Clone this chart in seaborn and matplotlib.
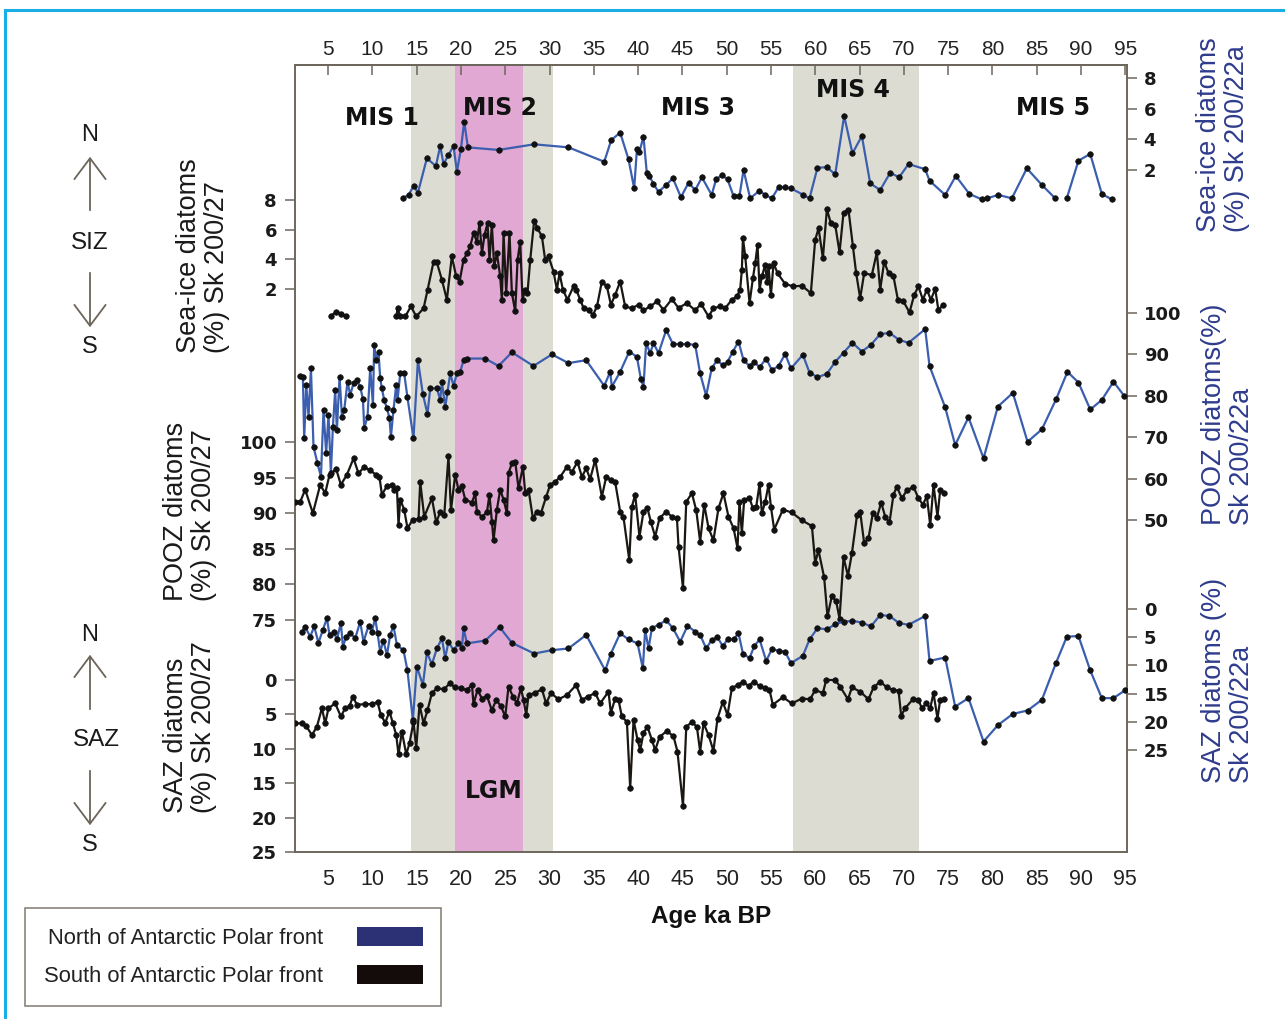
import numpy as np
import pandas as pd
import matplotlib
matplotlib.use("Agg")
import matplotlib.pyplot as plt
from matplotlib.patches import Rectangle, FancyArrowPatch, Patch
import seaborn as sns

# ---------------- data ----------------
age_ticks = list(range(5, 100, 5))

# climate stage bands (ka BP)
grey_bands = [(14.4, 30.4), (57.5, 71.7)]
lgm_band = (19.3, 27.05)
stage_labels = ["MIS 1", "MIS 2", "MIS 3", "MIS 4", "MIS 5"]

# Sea-ice diatoms (%), core Sk 200/22a (north of the Polar Front); NaN = break in record
seaice_22a_age = [13.47, 14.07, 14.64, 15.13, 16.14, 17.16, 17.65, 18.02, 18.58, 19.15,
                  19.53, 19.98, 20.36, 20.77, 24.23, 28.26, 32.13, 36.17, 36.96, 37.97,
                  38.91, 39.55, 39.86, 40.15, 40.6, 40.98, 41.28, 41.73, 42.3, 43.17,
                  43.92, 44.83, 45.69, 46.44, 47.2, 48.3, 48.8, 49.46, 50.09, 50.77,
                  51.44, 51.9, 52.65, 53.7, 54.35, 55.1, 55.85, 56.6, 57.25, 58.67,
                  59.35, 60.25, 61.31, 62.25, 63.26, 64.2, 65.26, 66.2, 67.33, 68.46,
                  69.47, 70.53, 72.41, 72.9, 74.67, 75.87, 77.41, 78.81, np.nan, 79.37,
                  80.68, 82.2, 83.89, 85.59, 87.09, np.nan, 88.4, 89.72, 91.05, 92.36, 93.49]
seaice_22a_val = [0.17, 0.37, 0.95, 0.52, 2.76, 2.26, 3.57, 2.39, 2.98, 3.57,
                  1.89, 3.35, 5.16, 3.48, 3.31, 3.68, 3.48, 2.54, 3.96, 4.44,
                  2.70, 0.80, 3.35, 3.20, 4.18, 1.78, 1.61, 1.08, 0.58, 1.02,
                  1.46, 0.22, 1.17, 0.69, 1.52, 0.37, 1.39, 1.67, 1.39, 0.30,
                  0.30, 2.0, 0.15, 0.65, 0.37, 0.15, 0.87, 0.87, 0.80, 0.37,
                  0.15, 2.15, 2.18, 1.72, 5.53, 3.09, 4.22, 1.13, 0.69, 1.82,
                  1.52, 2.39, 2.05, 1.30, 0.37, 1.61, 0.43, 0.08, np.nan, 0.15,
                  0.37, 0.15, 2.11, 1.02, 0.15, np.nan, 0.15, 2.61, 3.05, 0.43, 0.08]

# Sea-ice diatoms (%), core Sk 200/27 (south of the Polar Front)
seaice_27_age = [5.3, 5.9, 6.5, 7.0, np.nan,
                 12.7, 12.85, 13.1, 13.7, 14.34, 14.94, 15.77, 16.22, 16.9, 17.27,
                 17.84, 18.4, 18.96, 19.45, 19.83, 20.28, 20.66, 21.03, 21.41, 21.79,
                 22.09, 22.36, 22.65, 22.99, 23.21, 23.48, 23.74, 24.05, 24.42, 24.61,
                 24.8, 25.1, 25.47, 25.74, 26.12, 26.38, 26.68, 26.94, 27.25, 27.5,
                 27.81, 28.26, 28.63, 29.13, 29.5, 29.88, 30.44, 30.82, 31.12, 31.5,
                 32.02, 32.7, 33.0, 33.45, 33.83, 34.4, 34.89, 35.35, 35.9, 36.47,
                 36.92, 37.4, 37.97, 38.53, 39.29, 40.04, 40.6, 41.36, 42.12, 42.86,
                 43.81, 44.56, 45.5, 46.44, 47.1, 47.95, 48.5, 49.26, 49.82, 50.58,
                 51.15, 51.52, 51.71, 51.83, 52.09, 52.58, 52.96, 53.22, 53.48, 53.71,
                 53.97, 54.35, 54.54, 54.72, 54.99, 55.29, 55.74, 56.6, 57.47, 58.49,
                 59.5, 59.99, 60.37, 60.86, 61.31, 61.76, 62.25, 62.74, 63.19, 63.75,
                 64.25, 64.62, 65.07, 65.52, 66.39, 66.95, 67.33, 67.78, 68.27, 68.83,
                 69.33, 69.96, 70.64, 71.17, 71.65, 72.15, 72.6, 73.05, 73.54, 73.91, 74.41]
seaice_27_val = [0.2, 0.45, 0.35, 0.15, np.nan,
                 0.15, 0.75, 0.15, 0.15, 0.83, 0.15, 0.70, 1.94, 3.85, 3.79,
                 2.62, 1.28, 4.2, 2.85, 2.5, 3.96, 4.4, 4.87, 5.77, 5.2,
                 6.44, 4.4, 5.64, 6.44, 3.96, 6.33, 3.52, 4.4, 2.85, 1.28,
                 5.77, 1.73, 5.8, 1.73, 0.49, 3.96, 5.2, 1.28, 1.96, 1.73,
                 3.96, 6.62, 6.1, 5.55, 3.96, 4.2, 3.18, 1.96, 3.06, 1.96,
                 1.28, 2.18, 1.96, 1.28, 0.72, 0.6, 0.25, 0.83, 2.5, 2.18,
                 0.94, 1.6, 2.5, 0.83, 0.7, 0.94, 0.56, 0.83, 1.16, 0.6,
                 1.32, 0.72, 1.05, 0.56, 1.0, 0.15, 0.7, 0.83, 0.7, 1.28,
                 1.5, 1.96, 3.3, 5.44, 4.2, 1.05, 2.74, 3.75, 4.98, 1.96,
                 2.85, 3.64, 2.5, 3.52, 1.6, 3.75, 3.06, 2.35, 2.18, 2.22,
                 1.73, 5.32, 6.1, 4.08, 7.38, 6.44, 6.33, 4.47, 7.16, 7.34,
                 4.87, 3.06, 1.38, 3.06, 2.95, 4.47, 1.96, 3.85, 3.06, 2.85,
                 1.28, 1.16, 0.42, 1.6, 2.18, 1.28, 1.96, 1.28, 2.0, 0.56, 0.94]

# POOZ diatoms (%), core Sk 200/22a
pooz_22a_age = [1.84, 2.14, 2.29, 2.52, 2.78, 3.05, 3.34, 3.79, 4.18, 4.47,
                4.77, 5.03, 5.3, 5.53, 5.79, 5.98, 6.28, 6.55, 6.81, 7.18,
                7.48, 7.86, 8.24, 8.61, 8.92, 9.07, 9.44, 9.74, 10.05, 10.19,
                10.42, 10.68, 10.87, 11.06, 11.32, 11.63, 11.92, 12.08, 12.37, 12.68,
                12.83, 13.13, 13.58, 13.95, 14.63, 15.13, 15.69, 16.21, 16.52, 17.27,
                17.65, 17.84, 18.21, 18.47, 18.78, 19.15, 19.53, 19.91, 20.28, 20.66,
                22.73, 24.23, 25.74, 28.18, 30.26, 32.13, 34.13, 36.17, 36.84, 37.03,
                37.97, 39.0, 39.86, 40.31, 40.6, 40.9, 41.36, 41.73, 42.3, 43.17,
                43.92, 44.75, 45.57, 46.44, 47.0, 47.68, 48.3, 48.9, 49.56, 50.09,
                50.7, 51.33, 51.9, 52.58, 53.1, 53.71, 54.46, 55.1, 55.85, 56.6,
                57.25, 58.6, 59.35, 60.25, 61.31, 62.25, 63.19, 64.2, 65.26, 66.28,
                67.33, 68.38, 69.47, 70.53, 72.41, 72.9, 74.67, 75.8, 77.3, 79.0,
                80.62, 82.31, 83.97, 85.59, 87.2, 88.48, 89.72, 91.05, 92.36, 93.67, 94.88]
pooz_22a_val = [84.8, 84.6, 69.7, 82.6, 75.0, 86.6, 67.7, 63.7, 60.5, 76.6,
                66.1, 75.4, 61.3, 72.5, 81.4, 71.7, 84.6, 75.0, 76.6, 83.4,
                80.2, 83.0, 83.8, 82.2, 79.2, 72.2, 75.0, 86.6, 77.8, 92.3,
                88.6, 90.7, 84.2, 81.8, 79.0, 77.0, 74.6, 70.1, 76.6, 82.6,
                79.0, 85.4, 85.4, 79.6, 69.7, 88.6, 80.4, 75.6, 81.8, 81.8,
                79.0, 83.4, 77.2, 81.0, 85.4, 82.4, 85.4, 85.8, 88.6, 89.0,
                89.0, 87.2, 90.5, 87.2, 90.0, 87.9, 88.6, 82.4, 85.8, 82.2,
                85.8, 90.7, 89.4, 84.0, 82.2, 92.7, 90.3, 92.7, 90.3, 95.9,
                92.5, 92.5, 92.5, 92.3, 85.4, 80.0, 86.6, 88.6, 87.4, 88.2,
                90.7, 93.1, 88.6, 87.2, 88.2, 86.9, 89.0, 86.2, 87.2, 90.1,
                86.6, 89.9, 85.6, 84.5, 85.3, 88.2, 90.4, 92.8, 90.7, 92.3,
                94.9, 95.2, 93.5, 92.8, 96.1, 87.2, 77.2, 68.1, 74.8, 64.9,
                77.4, 80.7, 68.9, 71.9, 79.2, 85.8, 83.2, 76.7, 79.0, 83.4, 80.0]

# POOZ diatoms (%), core Sk 200/27
pooz_27_age = [1.27, 1.84, 2.4, 3.27, 4.1, 4.66, 5.15, 5.9, 6.43, 7.11,
               7.86, 8.42, 9.07, 9.74, 10.42, 10.79, 11.06, 11.63, 12.19, 12.45,
               12.76, 12.94, 13.13, 13.58, 13.95, 14.56, 15.2, 15.39, 15.84, 16.71,
               17.2, 17.65, 18.1, 18.58, 18.86, 19.34, 19.71, 20.1, 20.47, 21.23,
               21.6, 21.79, 22.36, 22.92, 23.21, 23.48, 23.67, 24.05, 24.42, 24.8,
               25.18, 25.36, 25.74, 26.12, 26.49, 26.99, 27.25, 27.62, 28.11, 28.56,
               29.02, 29.61, 30.07, 30.63, 31.2, 31.95, 32.52, 33.15, 33.65, 34.13,
               34.58, 35.15, 35.9, 36.39, 36.92, 37.4, 37.97, 38.34, 39.0, 39.29,
               39.66, 40.15, 40.6, 41.05, 41.43, 41.92, 42.41, 43.17, 43.81, 44.38,
               44.56, 45.06, 45.43, 46.07, 46.56, 47.0, 47.46, 47.95, 48.5, 49.07,
               49.63, 50.2, 50.77, 51.22, 51.44, 51.71, 51.97, 52.57, 52.96, 53.33,
               53.71, 53.97, 54.35, 54.72, 54.99, 55.36, 56.34, 57.35, 58.49, 59.62,
               59.99, 60.36, 61.0, 61.38, 61.88, 62.36, 62.74, 63.19, 63.69, 64.14,
               64.71, 65.07, 65.52, 66.01, 66.5, 66.95, 67.44, 67.9, 68.38, 68.83,
               69.21, 69.78, 70.34, 71.09, 71.65, 72.15, 72.6, 72.98, 73.35, 73.8, 74.1, 74.48]
pooz_27_val = [91.6, 91.6, 93.3, 90.0, 94.0, 92.8, 95.4, 96.2, 94.0, 95.4,
               97.7, 95.6, 96.5, 96.0, 95.4, 95.1, 92.6, 93.8, 94.0, 93.2,
               93.5, 88.3, 91.9, 90.5, 87.9, 89.1, 89.2, 94.4, 89.5, 92.1,
               88.7, 90.2, 89.7, 98.0, 90.4, 95.4, 93.3, 93.8, 91.9, 91.5,
               92.8, 90.2, 89.5, 90.1, 92.6, 88.8, 86.2, 90.5, 93.3, 91.9,
               90.0, 95.6, 97.0, 97.2, 93.5, 96.5, 92.8, 93.3, 89.3, 90.2,
               90.0, 92.3, 94.0, 94.4, 95.1, 96.5, 95.8, 97.2, 95.1, 96.3,
               94.8, 97.5, 92.3, 95.1, 94.7, 94.4, 90.2, 89.5, 83.4, 90.9,
               92.6, 86.7, 90.2, 90.7, 88.8, 86.7, 89.3, 90.2, 89.5, 89.3,
               85.3, 79.5, 91.6, 92.8, 90.4, 86.0, 91.2, 87.9, 86.2, 90.7,
               92.8, 89.5, 87.9, 85.1, 91.6, 87.2, 91.9, 92.1, 90.7, 90.9,
               94.1, 90.0, 91.6, 94.0, 90.9, 87.7, 90.5, 90.1, 89.0, 88.2,
               83.0, 84.8, 81.0, 75.5, 78.4, 77.6, 75.2, 83.8, 81.2, 84.4,
               89.7, 90.2, 85.8, 86.5, 90.0, 89.3, 91.5, 89.5, 88.7, 92.6,
               93.7, 92.1, 93.2, 93.7, 92.1, 91.2, 92.4, 88.3, 94.0, 89.5, 93.2, 92.9]

# SAZ diatoms (%), core Sk 200/22a
saz_22a_age = [2.03, 2.4, 2.97, 3.42, 3.9, 4.4, 4.85, 5.15, 5.6, 5.98,
               6.43, 6.66, 7.03, 7.48, 8.05, 8.61, 8.99, 9.55, 9.93, 10.31,
               10.57, 10.87, 11.24, 11.63, 12.0, 12.37, 12.76, 13.5, 13.95, 14.56,
               15.01, 15.69, 16.14, 16.71, 17.27, 17.84, 18.21, 18.58, 19.15, 19.71,
               20.1, 20.28, 20.66, 22.73, 24.35, 25.74, 28.26, 30.26, 32.13, 34.13,
               36.28, 36.92, 37.97, 38.91, 39.93, 40.53, 40.79, 41.17, 41.55, 42.3,
               43.17, 43.92, 44.75, 45.57, 46.44, 47.0, 47.68, 48.3, 48.94, 49.56,
               50.09, 50.77, 51.33, 51.83, 52.58, 53.1, 53.71, 54.46, 55.1, 55.85,
               56.6, 57.25, 58.6, 59.35, 60.25, 61.31, 62.25, 63.19, 64.2, 65.26,
               66.28, 67.33, 68.38, 69.47, 70.53, 72.41, 72.9, 74.67, 75.8, 77.3,
               79.0, 80.62, 82.31, 83.97, 85.59, 87.2, 88.41, 89.72, 91.05, 92.36,
               93.67, 95.0]
saz_22a_val = [4.0, 3.2, 4.9, 3.1, 6.0, 3.7, 1.65, 4.6, 4.0, 5.4,
               2.5, 6.7, 4.9, 4.2, 5.2, 2.25, 5.8, 3.0, 4.0, 1.65,
               4.3, 7.6, 5.6, 8.2, 4.6, 3.0, 6.4, 7.3, 10.9, 19.7,
               10.2, 13.5, 7.7, 9.8, 7.0, 5.2, 8.7, 5.8, 7.3, 6.1,
               7.0, 3.4, 6.1, 5.6, 3.2, 6.0, 7.9, 7.3, 7.0, 4.6,
               10.9, 7.9, 4.3, 5.4, 6.1, 10.5, 3.7, 7.0, 3.4, 2.8,
               2.0, 3.4, 5.8, 3.0, 4.0, 4.6, 7.0, 5.5, 5.0, 6.6,
               5.4, 5.4, 4.3, 7.9, 8.7, 6.6, 5.4, 9.2, 7.1, 7.4,
               7.6, 9.6, 8.3, 5.4, 3.4, 3.6, 2.7, 2.25, 2.1, 2.4,
               3.1, 1.06, 1.24, 2.5, 2.8, 1.24, 9.2, 8.6, 17.3, 15.8,
               23.5, 20.6, 18.6, 18.0, 16.1, 9.5, 4.9, 4.8, 10.9, 15.8,
               15.8, 14.4]

# SAZ diatoms (%), core Sk 200/27
saz_27_age = [1.27, 2.03, 2.52, 3.16, 3.72, 4.29, 4.66, 5.03, 5.79, 6.43,
              6.92, 7.41, 7.78, 8.24, 9.18, 9.93, 10.57, 10.95, 11.44, 11.92,
              12.31, 12.68, 12.94, 13.32, 13.81, 14.18, 14.63, 14.94, 15.31, 15.77,
              16.21, 16.71, 17.27, 18.1, 18.7, 19.34, 19.98, 20.66, 21.23, 21.41,
              21.86, 22.36, 22.92, 23.48, 23.97, 24.5, 24.99, 25.36, 25.86, 26.31,
              26.76, 27.06, 27.36, 27.62, 28.37, 29.13, 29.61, 30.15, 31.0, 31.95,
              33.0, 33.65, 34.32, 35.15, 35.71, 36.65, 36.92, 37.4, 37.78, 38.16,
              38.73, 39.1, 39.48, 39.93, 40.23, 40.6, 41.05, 41.55, 41.92, 42.41,
              43.24, 43.99, 44.44, 45.06, 45.43, 46.07, 46.63, 47.0, 47.38, 47.95,
              48.5, 48.96, 49.56, 50.09, 50.58, 51.22, 51.83, 52.46, 53.03, 53.71,
              54.35, 54.83, 55.21, 56.34, 57.35, 58.49, 59.42, 59.99, 60.86, 61.23,
              62.25, 62.81, 63.69, 64.14, 65.07, 66.01, 66.58, 67.33, 68.08, 68.83,
              69.4, 69.7, 70.15, 71.09, 71.65, 72.03, 72.52, 72.98, 73.35, 73.8, 74.1, 74.48]
saz_27_val = [6.3, 6.3, 6.7, 8.0, 6.8, 4.1, 6.3, 4.1, 3.4, 5.3,
              4.1, 3.8, 2.4, 3.6, 3.5, 3.5, 3.2, 5.1, 6.2, 4.6,
              6.3, 8.0, 10.8, 7.5, 10.8, 9.2, 6.1, 9.9, 3.6, 6.3,
              4.4, 1.9, 1.2, 1.35, 0.5, 1.07, 1.2, 1.45, 0.73, 3.5,
              1.45, 2.7, 2.3, 4.4, 2.9, 3.8, 5.3, 0.97, 2.4, 3.4,
              1.2, 2.9, 5.1, 2.2, 1.85, 1.35, 3.4, 1.9, 2.8, 2.2,
              0.73, 2.9, 2.4, 1.9, 3.4, 1.7, 4.8, 2.7, 2.9, 5.3,
              6.1, 15.7, 5.8, 8.7, 10.2, 7.7, 6.8, 8.7, 10.2, 8.3,
              7.4, 8.2, 10.4, 18.3, 6.8, 6.1, 6.8, 10.4, 6.3, 8.0,
              10.3, 5.6, 3.2, 5.1, 1.2, 0.73, 0.24, 0.87, 0.24, 0.87,
              1.2, 1.45, 3.6, 2.5, 3.4, 2.7, 2.8, 1.45, 1.9, 0.0,
              0.0, 0.97, 2.8, 1.07, 1.7, 2.8, 1.07, 0.24, 1.07, 1.45,
              1.55, 5.2, 4.1, 2.7, 2.9, 4.1, 3.4, 4.1, 1.9, 5.6, 2.9, 2.7]

# ---------------- styling ----------------
sns.set_style("white")
plt.rcParams["font.family"] = ["Liberation Sans", "DejaVu Sans"]

W, H = 1285, 1019
L, R, T, B = 295, 1127, 65, 852          # plot frame in pixels
XLIM = (1.25, 95.2)
FRAME = "#6d665c"
BLUE = "#3b5fae"
BLACK = "#1b1712"
NAVY = "#2e3c8c"
GREY_BAND = "#dcdcd3"
PINK_BAND = "#e0a8d3"


def fx(px):
    return px / W


def fy(py):
    return 1 - py / H


rect = [fx(L), fy(B), (R - L) / W, (B - T) / H]

fig = plt.figure(figsize=(W / 100, H / 100), dpi=100)
fig.patch.set_facecolor("white")

# ---- base axes: frame, age axis, shaded stages ----
ax = fig.add_axes(rect)
ax.set_xlim(*XLIM)
ax.set_ylim(0, 1)
ax.set_yticks([])
for lo, hi in grey_bands:
    ax.axvspan(lo, hi, color=GREY_BAND, lw=0, zorder=0)
ax.axvspan(*lgm_band, color=PINK_BAND, lw=0, zorder=0)
for s in ax.spines.values():
    s.set_color(FRAME)
    s.set_linewidth(1.4)
ax.set_xticks(age_ticks)
ax.set_xticklabels([str(t) for t in age_ticks], fontsize=15.5, color="#222222")
ax.tick_params(axis="x", direction="out", length=7, width=1.1, color=FRAME, pad=5)
ax.set_xlabel("Age ka BP", fontsize=17.5, fontweight="bold", color="#111111", labelpad=11)

top = ax.secondary_xaxis("top")
top.set_xticks(age_ticks)
top.set_xticklabels([str(t) for t in age_ticks], fontsize=15, color="#222222")
top.tick_params(axis="x", direction="in", length=7, width=1.1, color=FRAME, pad=4)
top.spines["top"].set_color(FRAME)
top.spines["top"].set_linewidth(1.4)

# stage labels (age position, pixel row)
stage_x = [11.1, 24.4, 46.8, 64.3, 86.9]
stage_y = [118, 108, 108, 90, 108]
for lab, sx, sy in zip(stage_labels, stage_x, stage_y):
    ax.text(sx, 1 - (sy - T) / (B - T), lab, ha="center", va="center",
            fontsize=17, fontweight="bold", family="DejaVu Sans", color="#111111")
ax.text(23.7, 1 - (791 - T) / (B - T), "LGM", ha="center", va="center",
        fontsize=17, fontweight="bold", family="DejaVu Sans", color="#111111")


def frame_ylim(v_ref, y_ref, k, inverted=False):
    s = -1 if inverted else 1
    return v_ref - s * (B - y_ref) / k, v_ref + s * (y_ref - T) / k


def series_axes(side, ylim, ticks):
    sa = fig.add_axes(rect, sharex=ax)
    sa.patch.set_visible(False)
    for s in sa.spines.values():
        s.set_visible(False)
    sa.xaxis.set_visible(False)
    sa.set_ylim(*ylim)
    if side == "left":
        sa.yaxis.tick_left()
    else:
        sa.yaxis.tick_right()
    sa.set_yticks(ticks)
    sa.set_yticklabels([str(t) for t in ticks], fontsize=13, fontweight="bold",
                       family="DejaVu Sans", color="#1a1a1a")
    sa.tick_params(axis="y", direction="out", length=7, width=1.1, color=FRAME,
                   pad=6 if side == "left" else 5)
    return sa


def draw(sa, age, val, color):
    df = pd.DataFrame({"age": age, "val": val})
    df["seg"] = df["val"].isna().cumsum()
    df = df.dropna()
    sns.lineplot(data=df, x="age", y="val", units="seg", estimator=None, sort=False,
                 color=color, lw=1.6, marker="o", ms=4.0, markerfacecolor="#111111",
                 markeredgecolor="#111111", markeredgewidth=0.5, legend=False, ax=sa)
    sa.set_xlabel("")
    sa.set_ylabel("")


# left scales (Sk 200/27) and right scales (Sk 200/22a)
a1 = series_axes("left", frame_ylim(0, 318.7, 14.83), [2, 4, 6, 8])
draw(a1, seaice_27_age, seaice_27_val, BLACK)
a2 = series_axes("right", frame_ylim(0, 200.6, 15.3), [2, 4, 6, 8])
draw(a2, seaice_22a_age, seaice_22a_val, BLUE)
a3 = series_axes("left", frame_ylim(100, 442, 7.12), [75, 80, 85, 90, 95, 100])
draw(a3, pooz_27_age, pooz_27_val, BLACK)
a4 = series_axes("right", frame_ylim(100, 313, 4.14), [50, 60, 70, 80, 90, 100])
draw(a4, pooz_22a_age, pooz_22a_val, BLUE)
a5 = series_axes("left", frame_ylim(0, 680, 6.88, inverted=True), [0, 5, 10, 15, 20, 25])
draw(a5, saz_27_age, saz_27_val, BLACK)
a6 = series_axes("right", frame_ylim(0, 609, 5.64, inverted=True), [0, 5, 10, 15, 20, 25])
draw(a6, saz_22a_age, saz_22a_val, BLUE)
for sa in (a1, a2, a3, a4, a5, a6):
    sa.set_xlim(*XLIM)

# ---- axis titles ----
left_titles = [("Sea-ice diatoms\n(%) Sk 200/27", 203, 256),
               ("POOZ diatoms\n(%) Sk 200/27", 190, 511),
               ("SAZ diatoms\n(%) Sk 200/27", 190, 727)]
for txt, px, py in left_titles:
    fig.text(fx(px), fy(py), txt, rotation=90, ha="center", va="center",
             multialignment="left", fontsize=19.5, color="#1a1a1a", linespacing=1.08)
right_titles = [("Sea-ice diatoms\n(%) Sk 200/22a", 1223, 135),
                ("POOZ diatoms(%)\nSk 200/22a", 1228, 414),
                ("SAZ diatoms (%)\nSk 200/22a", 1228, 680)]
for txt, px, py in right_titles:
    fig.text(fx(px), fy(py), txt, rotation=90, ha="center", va="center",
             multialignment="left", fontsize=19.5, color=NAVY, linespacing=1.08)

# ---- zone direction markers ----
ARROW = "#6b6459"
for n_y, up, zone, zx, zy, down, s_y in [(135, (213, 154), "SIZ", 90, 243, (270, 330), 347),
                                         (635, (712, 652), "SAZ", 96, 740, (768, 828), 845)]:
    fig.text(fx(90), fy(n_y), "N", ha="center", va="center", fontsize=17, color="#1a1a1a")
    fig.text(fx(zx), fy(zy), zone, ha="center", va="center", fontsize=17.5, color="#1a1a1a")
    fig.text(fx(90), fy(s_y), "S", ha="center", va="center", fontsize=17, color="#1a1a1a")
    for y0, y1 in (up, down):
        fig.patches.append(FancyArrowPatch((fx(90), fy(y0)), (fx(90), fy(y1)),
                                           transform=fig.transFigure,
                                           arrowstyle="->,head_length=1.0,head_width=0.75",
                                           mutation_scale=15, color=ARROW, lw=1.3))

# ---- legend ----
handles = [Patch(facecolor="#2b3174", edgecolor="none"),
           Patch(facecolor="#140c0a", edgecolor="none")]
leg = fig.legend(handles, ["North of Antarctic Polar front", "South of Antarctic Polar front"],
                 loc="upper left", bbox_to_anchor=(fx(25), fy(908)), markerfirst=False,
                 frameon=True, fancybox=False, edgecolor=FRAME, fontsize=15.8,
                 handlelength=3.0, handleheight=0.95, handletextpad=1.55,
                 labelspacing=0.74, borderpad=0.85, borderaxespad=0)
leg.get_frame().set_linewidth(1.2)
for t in leg.get_texts():
    t.set_color("#222222")

# ---- outer border ----
fig.patches.append(Rectangle((fx(5), fy(1030)), (1300 - 5) / W, (1030 - 10) / H,
                             transform=fig.transFigure, fill=False,
                             edgecolor="#1aaee6", lw=2.2, clip_on=False))

fig.savefig("out.png", dpi=100)
